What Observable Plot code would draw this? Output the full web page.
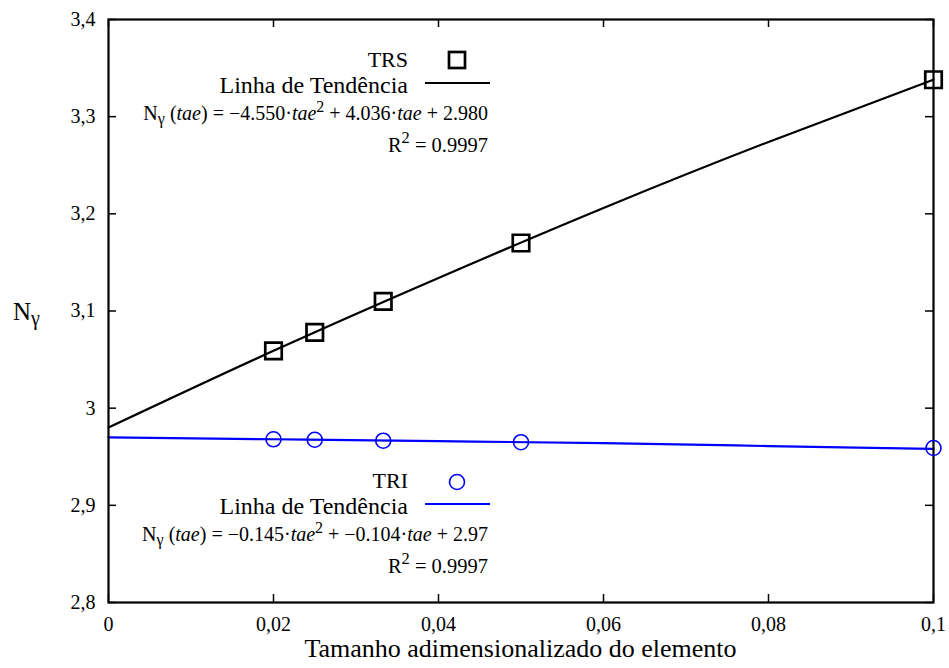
<!DOCTYPE html>
<html><head><meta charset="utf-8">
<script src="https://cdn.jsdelivr.net/npm/d3@7"></script>
<script src="https://cdn.jsdelivr.net/npm/@observablehq/plot@0.6"></script>
<style>html,body{margin:0;padding:0;background:#fff;} svg{display:block}</style>
</head><body><div id="chart"></div>
<script>
// ---- data ----
const tae = [0.02, 0.025, 0.0333, 0.05, 0.1];
const trsValues = [3.059, 3.078, 3.110, 3.170, 3.338];
const triValues = [2.968, 2.9675, 2.9665, 2.965, 2.959];
const trendX = [0, 0.02, 0.04, 0.06, 0.08, 0.1];
const trsTrend = [2.980, 3.059, 3.134, 3.206, 3.274, 3.338];
const triTrend = [2.970, 2.968, 2.966, 2.964, 2.961, 2.958];
const xTicks = [0, 0.02, 0.04, 0.06, 0.08, 0.1];
const xTickLabels = ["0", "0,02", "0,04", "0,06", "0,08", "0,1"];
const yTicks = [2.8, 2.9, 3.0, 3.1, 3.2, 3.3, 3.4];
const yTickLabels = ["2,8", "2,9", "3", "3,1", "3,2", "3,3", "3,4"];
const seriesNames = ["TRS", "TRI"];
const trendLabel = "Linha de Tendência";
const xTitle = "Tamanho adimensionalizado do elemento";
const eqCoeffs = [["−4.550", "4.036", "2.980"], ["−0.145", "−0.104", "2.97"]];
const r2Values = ["0.9997", "0.9997"];

// ---- layout / style ----
const FONT = "'Liberation Serif', 'Times New Roman', Times, serif";
const W = 949, H = 668, mL = 108, mR = 16, mT = 19, mB = 66;
const innerW = W - mL - mR, innerH = H - mT - mB;
const TK = 8;
const BLUE = "#0000ff";

const plot = Plot.plot({
  width: W, height: H,
  marginLeft: mL, marginRight: mR, marginTop: mT, marginBottom: mB,
  style: {fontFamily: FONT, background: "#fff", color: "#000", overflow: "visible"},
  x: {domain: [0, 0.1]},
  y: {domain: [2.8, 3.4]},
  marks: [
    Plot.axisX(xTicks, {tickSize: 0, tickPadding: 14, fontSize: 20, label: null,
      tickFormat: d => xTickLabels[xTicks.indexOf(d)]}),
    Plot.axisY(yTicks, {tickSize: 0, tickPadding: 13, fontSize: 20, label: null,
      tickFormat: d => yTickLabels[yTicks.indexOf(d)]}),
    Plot.ruleX(xTicks, {x: d => d, insetTop: innerH - TK, stroke: "#000", strokeWidth: 1.5}),
    Plot.ruleX(xTicks, {x: d => d, insetBottom: innerH - TK, stroke: "#000", strokeWidth: 1.5}),
    Plot.ruleY(yTicks, {y: d => d, insetRight: innerW - TK, stroke: "#000", strokeWidth: 1.5}),
    Plot.ruleY(yTicks, {y: d => d, insetLeft: innerW - TK, stroke: "#000", strokeWidth: 1.5}),
    Plot.line(trendX, {x: d => d, y: (d, i) => trsTrend[i], stroke: "#000", strokeWidth: 2.2, curve: "natural"}),
    Plot.line(trendX, {x: d => d, y: (d, i) => triTrend[i], stroke: BLUE, strokeWidth: 2.2, curve: "natural"}),
    Plot.frame({stroke: "#000", strokeWidth: 2.2}),
    Plot.dot(tae, {x: d => d, y: (d, i) => trsValues[i], symbol: "square", r: 9.3,
      stroke: "#000", strokeWidth: 2.7, fill: "none"}),
    Plot.dot(tae, {x: d => d, y: (d, i) => triValues[i], symbol: "circle", r: 7.5,
      stroke: BLUE, strokeWidth: 1.6, fill: "none"})
  ]
});
document.getElementById("chart").append(plot);

// ---- rich text (subscripts, superscripts, italics) ----
const svg = d3.select(plot);
function rich(x, y, size, anchor, parts) {
  const t = svg.append("text").attr("x", x).attr("y", y)
    .attr("text-anchor", anchor).attr("font-family", FONT)
    .attr("font-size", size).attr("fill", "#000").style("white-space", "pre");
  let shift = 0;
  for (const p of parts) {
    const [s, kind] = typeof p === "string" ? [p, ""] : p;
    const ts = t.append("tspan").text(s);
    let target = 0;
    if (kind === "sub") { target = size * 0.2; ts.attr("font-size", size * 0.8); }
    if (kind === "sup") { target = -size * 0.42; ts.attr("font-size", size * 0.8); }
    if (kind === "i") ts.attr("font-style", "italic");
    if (target !== shift) { ts.attr("dy", target - shift); shift = target; }
  }
  return t;
}

// y-axis label N_gamma
const ySc = plot.scale("y");
rich(13, ySc.apply(3.1) + 9, 25, "start", ["N", ["γ", "sub"]]);

// x-axis title
rich(mL + innerW / 2, 657, 26, "middle", [xTitle]);

// legends
const legendTop = [0, 421];
legendTop.forEach((off, k) => {
  const col = k === 0 ? "#000" : BLUE;
  rich(408, 67 + off, 22, "end", [seriesNames[k]]);
  if (k === 0) {
    svg.append("rect").attr("x", 457 - 8).attr("y", 60 + off - 8).attr("width", 16).attr("height", 16)
      .attr("fill", "none").attr("stroke", "#000").attr("stroke-width", 2.7);
  } else {
    svg.append("circle").attr("cx", 457).attr("cy", 61 + off).attr("r", 7.5)
      .attr("fill", "none").attr("stroke", BLUE).attr("stroke-width", 1.6);
  }
  rich(408, 93 + off, 24, "end", [trendLabel]);
  svg.append("line").attr("x1", 425).attr("x2", 490).attr("y1", 83 + off).attr("y2", 83 + off)
    .attr("stroke", col).attr("stroke-width", 2.2);
  const c = eqCoeffs[k];
  rich(488, 120 + off, 20, "end", ["N", ["γ", "sub"], " (", ["tae", "i"], ") = " + c[0] + "·",
    ["tae", "i"], ["2", "sup"], " + " + c[1] + "·", ["tae", "i"], " + " + c[2]]);
  rich(488, 152 + off, 20.5, "end", ["R", ["2", "sup"], " = " + r2Values[k]]);
});
</script>
</body></html>
